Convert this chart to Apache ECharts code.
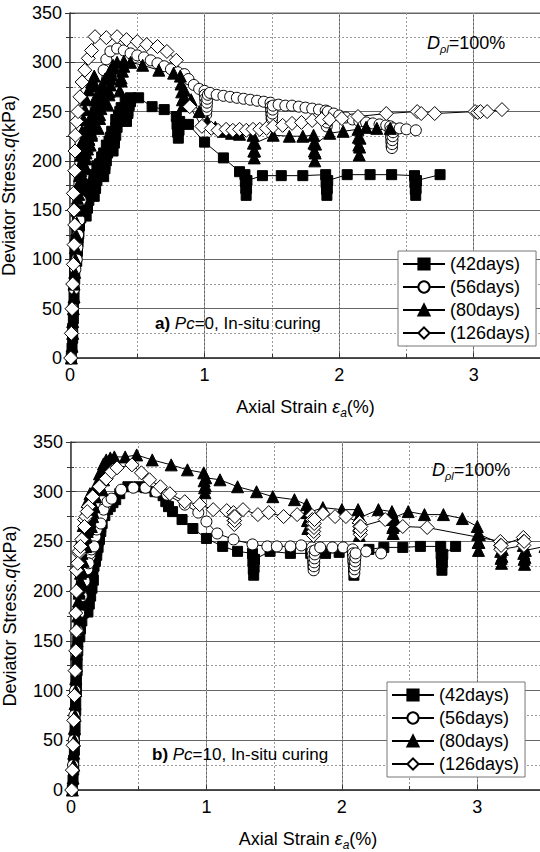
<!DOCTYPE html>
<html>
<head>
<meta charset="utf-8">
<title>deviator stress</title>
<script src="https://cdn.jsdelivr.net/npm/echarts@6/dist/echarts.min.js"></script>
<style>
html,body{margin:0;padding:0;background:#fff;}
#container{width:540px;height:852px;}
</style>
</head>
<body>
<div id="container"></div>
<script>
    // names used by both legends
    var names = ['(42days)', '(56days)', '(80days)', '(126days)'];

    // a) Pc=0  --  [axial strain %, deviator stress kPa]
    var a42 = [[0.01,0],[0.015,10],[0.02,20],[0.02,30],[0.025,40],[0.025,50],[0.03,60],[0.03,70],[0.035,80],[0.035,90],[0.04,100],[0.04,110],[0.045,120],[0.05,130],[0.055,140],[0.06,150],[0.07,158],
        [0.075,148],[0.07,138],[0.065,128],[0.06,118],[0.055,108],[0.05,98],[0.055,110],[0.06,122],[0.065,134],[0.075,146],[0.085,156],[0.09,163],[0.11,166],
        [0.10,158],[0.09,150],[0.08,142],[0.07,134],[0.065,126],[0.07,136],[0.08,146],[0.09,155],[0.11,165],[0.13,173],[0.15,178],[0.17,182],
        [0.16,175],[0.15,168],[0.14,160],[0.13,152],[0.12,144],[0.13,155],[0.14,165],[0.16,176],[0.18,186],[0.20,195],[0.235,204],
        [0.22,196],[0.21,188],[0.20,180],[0.19,172],[0.18,164],[0.19,175],[0.20,186],[0.22,197],[0.25,208],[0.27,216],[0.30,224],
        [0.29,216],[0.28,208],[0.27,200],[0.26,192],[0.25,184],[0.26,196],[0.27,208],[0.29,220],[0.31,230],[0.34,242],[0.37,250],
        [0.36,242],[0.35,234],[0.34,226],[0.33,218],[0.32,210],[0.33,222],[0.34,234],[0.36,246],[0.38,254],[0.41,260],[0.45,264],
        [0.44,256],[0.43,248],[0.42,240],[0.43,250],[0.45,260],
        [0.51,264],[0.61,255],[0.70,252],[0.79,245],[0.795,237],[0.80,229],[0.805,223],[0.81,231],[0.815,240],[0.88,237],[1.0,219],[1.14,203],[1.26,189],
        [1.30,186],[1.303,179],[1.306,172],[1.309,165],[1.312,172],[1.315,180],[1.43,185],[1.57,185],[1.73,185],
        [1.90,186],[1.903,178],[1.906,171],[1.909,165],[1.912,172],[1.915,180],[2.06,186],[2.23,186],[2.39,186],
        [2.56,185],[2.563,178],[2.566,171],[2.569,165],[2.572,172],[2.575,180],[2.75,186]];
    var a56 = [[0.01,0],[0.015,25],[0.02,50],[0.03,70],[0.04,90],[0.05,100],[0.055,112],[0.06,125],[0.07,140],[0.08,160],[0.1,185],[0.13,210],[0.16,232],[0.19,255],[0.22,275],[0.25,292],[0.27,303],[0.30,311],
        [0.35,314],[0.40,312],[0.45,309],[0.50,307],[0.55,305],[0.60,302],[0.65,299],[0.70,296],[0.75,293],[0.80,290],[0.85,288],[0.88,283],[0.92,277],[0.96,273],
        [1.0,271],[1.002,267],[1.004,263],[1.006,259],[1.008,255],[1.01,251],[1.012,247],[1.014,251],[1.016,255],[1.018,259],[1.02,263],[1.025,267],
        [1.04,269],[1.09,267],[1.14,266],[1.19,265],[1.24,264],[1.29,263],[1.34,262],[1.39,261],[1.44,260],
        [1.49,259],[1.492,255],[1.494,251],[1.496,247],[1.498,243],[1.50,240],[1.502,244],[1.504,248],[1.506,252],[1.508,256],
        [1.55,257],[1.60,256],[1.65,256],[1.70,255],[1.75,254],[1.80,253],[1.85,252],
        [1.90,251],[1.902,247],[1.904,243],[1.906,239],[1.908,235],[1.91,239],[1.912,243],[1.914,247],[1.916,250],
        [1.96,248],[2.0,246],[2.05,244],[2.10,242],[2.15,240],[2.20,239],[2.25,238],[2.30,237],[2.35,236],
        [2.38,235],[2.382,231],[2.384,227],[2.386,223],[2.388,219],[2.39,215],[2.392,213],[2.394,217],[2.396,221],[2.398,225],[2.40,229],[2.402,233],
        [2.45,233],[2.50,232],[2.57,231]];
    var a80 = [[0.01,0],[0.015,12],[0.02,25],[0.02,37],[0.025,50],[0.03,62],[0.03,75],[0.035,87],[0.04,100],[0.04,112],[0.045,125],[0.05,137],[0.05,150],[0.055,162],[0.06,175],[0.07,185],[0.08,195],[0.10,205],
        [0.09,196],[0.08,186],[0.07,176],[0.065,166],[0.07,178],[0.08,190],[0.09,200],[0.11,212],[0.13,222],[0.15,232],
        [0.14,222],[0.13,212],[0.12,202],[0.11,192],[0.10,182],[0.11,195],[0.12,208],[0.14,222],[0.16,236],[0.18,250],[0.20,262],
        [0.18,254],[0.16,246],[0.14,238],[0.12,230],[0.10,222],[0.09,214],[0.08,206],[0.085,218],[0.09,230],[0.10,242],[0.11,252],[0.12,262],[0.14,272],[0.16,280],[0.18,286],
        [0.19,276],[0.19,264],[0.18,252],[0.17,240],[0.16,228],[0.15,216],[0.16,226],[0.17,240],[0.19,254],[0.21,266],[0.24,276],[0.26,283],
        [0.25,273],[0.24,263],[0.23,253],[0.22,243],[0.21,233],[0.22,247],[0.23,261],[0.25,274],[0.27,284],[0.30,292],[0.32,297],
        [0.31,287],[0.30,277],[0.29,267],[0.28,257],[0.29,270],[0.30,283],[0.32,294],[0.35,300],[0.40,301],
        [0.39,291],[0.38,281],[0.37,271],[0.38,284],[0.40,296],[0.45,300],
        [0.54,297],[0.66,292],[0.77,289],[0.82,286],[0.825,278],[0.83,270],[0.835,262],[0.84,256],[0.845,264],[0.85,272],
        [0.9,262],[0.96,250],[1.02,240],[1.08,234],[1.14,230],[1.20,228],[1.26,227],
        [1.36,226],[1.363,218],[1.366,210],[1.369,203],[1.372,210],[1.375,218],[1.51,226],[1.63,225],[1.73,225],
        [1.81,226],[1.813,218],[1.816,210],[1.819,200],[1.822,208],[1.825,217],[1.93,228],[2.03,230],
        [2.14,232],[2.143,224],[2.146,216],[2.149,206],[2.152,214],[2.155,223],[2.20,234],[2.28,233],[2.38,233]];
    var a126 = [[0.005,0],[0.01,25],[0.015,50],[0.02,75],[0.025,95],[0.03,115],[0.035,135],[0.03,150],[0.025,167],[0.035,190],[0.037,210],[0.04,226],[0.05,240],[0.06,250],[0.074,265],
        [0.09,280],[0.11,292],[0.136,304],[0.16,312],[0.186,326],[0.27,325],[0.35,326],[0.42,323],[0.50,321],[0.57,318],[0.65,316],[0.72,311],[0.79,302],
        [0.89,255],[0.98,235],[1.05,233],[1.10,231],[1.16,232],[1.21,231],[1.26,232],[1.31,231],[1.36,232],[1.41,232],[1.46,233],[1.51,235],[1.58,236],
        [1.65,238],[1.72,239],[1.80,241],[1.87,242],[1.93,242],[2.02,243],[2.14,245],[2.35,248],[2.58,250],[2.61,248],[2.71,248],
        [3.01,250],[3.03,249],[3.05,250],[3.10,250],[3.21,252]];

    // b) Pc=10
    var b42 = [[0.01,0],[0.015,10],[0.02,20],[0.02,30],[0.025,40],[0.025,50],[0.03,60],[0.03,70],[0.035,80],[0.035,90],[0.04,100],[0.04,110],[0.045,120],[0.045,130],[0.05,140],[0.05,150],[0.055,160],[0.06,170],[0.07,178],[0.085,183],[0.10,186],
        [0.09,178],[0.08,170],[0.07,162],[0.065,154],[0.07,166],[0.08,178],[0.10,190],[0.12,200],[0.14,206],[0.165,211],
        [0.155,203],[0.145,195],[0.135,187],[0.125,179],[0.13,192],[0.14,205],[0.16,218],[0.18,230],[0.19,241],
        [0.18,233],[0.17,225],[0.16,217],[0.15,209],[0.16,222],[0.17,235],[0.19,248],[0.21,258],[0.23,268],
        [0.22,260],[0.21,252],[0.20,244],[0.19,236],[0.20,250],[0.22,264],[0.25,276],[0.27,282],[0.29,285],[0.31,289],[0.33,292],[0.36,298],[0.42,305],[0.50,305],[0.55,304],
        [0.62,300],[0.68,296],[0.70,290],[0.72,285],[0.75,280],[0.82,272],[0.90,263],[1.0,253],[1.12,245],[1.23,240],
        [1.34,238],[1.343,230],[1.346,222],[1.349,216],[1.352,224],[1.355,232],[1.47,240],[1.62,238],[1.77,238],[1.88,238],[1.98,239],
        [2.08,240],[2.083,232],[2.086,224],[2.089,216],[2.092,224],[2.095,232],[2.20,242],[2.31,244],[2.45,244],[2.58,245],
        [2.73,245],[2.733,237],[2.736,229],[2.739,221],[2.742,229],[2.745,237],[2.84,245]];
    var b56 = [[0.01,0],[0.015,25],[0.02,50],[0.025,75],[0.03,100],[0.035,120],[0.04,140],[0.05,160],[0.06,178],[0.08,195],[0.10,210],[0.12,222],[0.14,235],[0.16,248],
        [0.14,238],[0.13,228],[0.15,242],[0.18,258],[0.20,268],
        [0.18,255],[0.17,245],[0.19,262],[0.22,277],[0.25,285],
        [0.23,275],[0.22,268],[0.24,282],[0.27,290],[0.30,293],[0.37,302],[0.46,304],[0.55,304],[0.63,300],[0.71,297],[0.84,287],[0.94,279],
        [1.0,270],[1.08,258],[1.20,252],[1.34,247],[1.45,245],[1.52,245],[1.62,245],[1.70,246],
        [1.78,244],[1.782,240],[1.784,236],[1.786,232],[1.788,228],[1.79,224],[1.792,221],[1.794,225],[1.796,229],[1.798,233],[1.80,237],[1.802,241],
        [1.84,244],[1.93,244],[2.01,244],
        [2.08,242],[2.082,238],[2.084,234],[2.086,230],[2.088,226],[2.09,222],[2.092,218],[2.094,222],[2.096,226],[2.098,230],[2.10,234],[2.102,238],
        [2.18,240],[2.29,238]];
    var b80 = [[0.01,0],[0.015,12],[0.02,25],[0.02,37],[0.025,50],[0.025,62],[0.03,75],[0.03,87],[0.035,100],[0.035,112],[0.04,125],[0.04,137],[0.045,150],[0.05,162],[0.05,175],[0.055,187],[0.06,198],[0.07,210],[0.08,220],[0.09,230],
        [0.08,220],[0.07,210],[0.06,200],[0.055,190],[0.06,204],[0.07,218],[0.08,232],[0.095,245],[0.11,255],[0.125,263],[0.14,270],
        [0.12,262],[0.10,254],[0.09,246],[0.08,238],[0.07,230],[0.075,242],[0.08,254],[0.09,266],[0.10,278],[0.12,290],[0.14,298],
        [0.13,288],[0.12,278],[0.11,268],[0.10,258],[0.11,245],[0.12,260],[0.14,274],[0.16,287],[0.175,297],[0.19,305],
        [0.18,295],[0.17,285],[0.16,275],[0.15,265],[0.16,280],[0.17,295],[0.19,308],[0.21,318],[0.24,328],[0.26,332],
        [0.25,322],[0.24,312],[0.23,302],[0.24,316],[0.26,328],[0.29,334],[0.32,335],[0.40,335],[0.485,337],[0.60,332],[0.74,327],[0.86,322],
        [0.98,319],[0.983,311],[0.986,304],[0.989,299],[0.992,306],[0.995,314],[1.10,312],[1.23,305],[1.37,300],[1.49,295],[1.65,292],
        [1.74,287],[1.743,279],[1.746,271],[1.749,263],[1.752,271],[1.755,279],[1.86,284],[2.0,282],
        [2.12,282],[2.123,274],[2.126,266],[2.129,256],[2.132,264],[2.135,274],[2.27,282],
        [2.37,280],[2.373,272],[2.376,264],[2.379,258],[2.382,266],[2.385,274],[2.49,280],[2.61,277],[2.75,277],[2.89,273],
        [3.0,265],[3.003,257],[3.006,249],[3.009,241],[3.012,249],[3.015,257],
        [3.17,248],[3.173,240],[3.176,233],[3.179,228],[3.182,235],[3.185,242],
        [3.34,246],[3.343,238],[3.346,232],[3.349,227],[3.352,234],[3.355,241],[3.5,245]];
    var b126 = [[0.005,0],[0.01,20],[0.015,45],[0.02,70],[0.025,95],[0.03,120],[0.035,140],[0.04,160],[0.035,178],[0.04,200],[0.04,221],[0.06,238],[0.08,252],
        [0.06,240],[0.05,228],[0.07,245],[0.10,272],[0.13,285],
        [0.11,275],[0.10,265],[0.12,280],[0.16,295],[0.21,305],[0.26,313],[0.30,320],[0.34,324],[0.45,327],
        [0.52,319],[0.58,312],[0.66,305],[0.73,298],[0.84,290],[0.95,287],[1.05,282],[1.15,281],
        [1.20,279],[1.202,275],[1.204,271],[1.206,267],[1.208,271],[1.21,275],[1.27,282],[1.38,277],[1.46,279],[1.57,275],[1.67,277],
        [1.78,276],[1.782,272],[1.784,268],[1.786,264],[1.788,260],[1.79,256],[1.792,260],[1.794,264],[1.796,268],[1.798,272],[1.86,278],[1.95,275],[2.03,275],
        [2.13,269],[2.132,265],[2.134,261],[2.136,257],[2.138,261],[2.14,265],[2.32,272],[2.45,265],[2.63,264],
        [3.17,250],[3.172,246],[3.174,242],[3.176,246],[3.34,254],[3.342,250],[3.344,246],[3.346,250]];

    var FONT = "'Liberation Sans', Arial, sans-serif";

    function mk(name, data, sym, size, filled, axis) {
        return {
            name: name,
            type: 'line',
            xAxisIndex: axis,
            yAxisIndex: axis,
            data: data,
            symbol: sym,
            symbolSize: size,
            showAllSymbol: true,
            lineStyle: {color: '#000', width: 1},
            itemStyle: {color: filled ? '#000' : '#fff', borderColor: '#000', borderWidth: 1},
            emphasis: {disabled: true},
            silent: true
        };
    }

    function xMain(grid, gap) {
        return {
            type: 'value', gridIndex: grid, min: 0, max: 3.5, interval: 1,
            position: 'bottom',
            name: 'Axial Strain {e|ε}{s|a}(%)',
            nameLocation: 'middle', nameGap: gap,
            nameTextStyle: {
                color: '#000', fontSize: 18, fontFamily: FONT, lineHeight: 24,
                rich: {
                    e: {fontStyle: 'italic', fontSize: 18, fontFamily: FONT, lineHeight: 24},
                    s: {fontStyle: 'italic', fontSize: 12, fontFamily: FONT, lineHeight: 12, verticalAlign: 'bottom'}
                }
            },
            axisLine: {lineStyle: {color: '#333', width: 1.5}},
            axisTick: {inside: true, length: 5, lineStyle: {color: '#333'}},
            axisLabel: {color: '#000', fontSize: 18, fontFamily: FONT, margin: 8, showMaxLabel: false},
            splitLine: {show: true, lineStyle: {color: '#666', width: 1}}
        };
    }
    function xMinor(grid) {
        return {
            type: 'value', gridIndex: grid, min: 0, max: 3.5, interval: 0.5,
            position: 'bottom',
            axisLine: {show: false},
            axisTick: {show: true, inside: true, length: 4, lineStyle: {color: '#333'}},
            axisLabel: {show: false},
            splitLine: {show: true, lineStyle: {color: '#9a9a9a', width: 1, type: [2, 2]}}
        };
    }
    function yMain(grid, gap) {
        return {
            type: 'value', gridIndex: grid, min: 0, max: 350, interval: 50,
            position: 'left',
            name: 'Deviator Stress.{i|q}(kPa)',
            nameLocation: 'middle', nameGap: gap,
            nameTextStyle: {
                color: '#000', fontSize: 18, fontFamily: FONT, lineHeight: 24,
                rich: {i: {fontStyle: 'italic', fontSize: 18, fontFamily: FONT, lineHeight: 24}}
            },
            axisLine: {show: true, lineStyle: {color: '#333', width: 1.5}},
            axisTick: {show: true, inside: true, length: 5, lineStyle: {color: '#333'}},
            minorTick: {show: true, splitNumber: 2, length: 3, lineStyle: {color: '#333'}},
            axisLabel: {color: '#000', fontSize: 18, fontFamily: FONT, margin: 8},
            splitLine: {show: true, lineStyle: {color: '#666', width: 1}},
            minorSplitLine: {show: true, lineStyle: {color: '#9a9a9a', width: 1, type: [2, 2]}}
        };
    }
    function yRight(grid) {
        return {
            type: 'value', gridIndex: grid, min: 0, max: 350, interval: 50,
            position: 'right',
            axisLine: {show: true, lineStyle: {color: '#666', width: 1}},
            axisTick: {show: true, inside: true, length: 5, lineStyle: {color: '#333'}},
            minorTick: {show: true, splitNumber: 2, length: 4, lineStyle: {color: '#333'}},
            axisLabel: {show: false},
            splitLine: {show: false}
        };
    }
    function legendAt(left, top) {
        return {
            data: names, left: left, top: top, orient: 'vertical',
            itemWidth: 42, itemHeight: 14, itemGap: 5,
            padding: [4, 6, 4, 4],
            backgroundColor: '#fff', borderColor: '#777', borderWidth: 1,
            textStyle: {color: '#000', fontSize: 18, fontFamily: FONT},
            selectedMode: false
        };
    }
    function note(left, top, text) {
        return {
            type: 'text', left: left, top: top, z: 100,
            style: {
                text: text, fill: '#000', font: '17px ' + FONT,
                rich: {
                    b: {fontWeight: 'bold', fontSize: 17, fontFamily: FONT},
                    i: {fontStyle: 'italic', fontSize: 17, fontFamily: FONT},
                    d: {fontStyle: 'italic', fontSize: 18, fontFamily: FONT, lineHeight: 22},
                    s: {fontStyle: 'italic', fontSize: 11, fontFamily: FONT, lineHeight: 11, verticalAlign: 'bottom'},
                    n: {fontSize: 18, fontFamily: FONT, lineHeight: 22}
                }
            }
        };
    }

    var option = {
        animation: false,
        backgroundColor: '#fff',
        grid: [
            {left: 70, top: 13, width: 471, height: 345, show: true, borderColor: '#666', borderWidth: 1, outerBoundsMode: 'none', containLabel: false},
            {left: 71, top: 442, width: 474, height: 348, show: true, borderColor: '#666', borderWidth: 1, outerBoundsMode: 'none', containLabel: false}
        ],
        xAxis: [xMain(0, 37), xMinor(0), xMain(1, 37), xMinor(1)],
        yAxis: [yMain(0, 41), yRight(0), yMain(1, 41), yRight(1)],
        legend: [legendAt(398, 251), legendAt(387, 682)],
        graphic: [
            note(427, 34, '{d|D}{s|ρl}{n|=100%}'),
            note(155, 315, '{b|a)} {i|Pc}=0, In-situ curing'),
            note(432, 461, '{d|D}{s|ρl}{n|=100%}'),
            note(152, 746, '{b|b)} {i|Pc}=10, In-situ curing')
        ],
        series: [
            mk(names[0], a42, 'rect', 10, true, 0),
            mk(names[1], a56, 'circle', 11, false, 0),
            mk(names[2], a80, 'triangle', 12, true, 0),
            mk(names[3], a126, 'diamond', 14, false, 0),
            mk(names[0], b42, 'rect', 10, true, 2),
            mk(names[1], b56, 'circle', 11, false, 2),
            mk(names[2], b80, 'triangle', 12, true, 2),
            mk(names[3], b126, 'diamond', 14, false, 2)
        ]
    };
    var myChart = echarts.init(document.getElementById('container'), null, {renderer: 'svg'});
    myChart.setOption(option, true);
</script>
</body>
</html>
